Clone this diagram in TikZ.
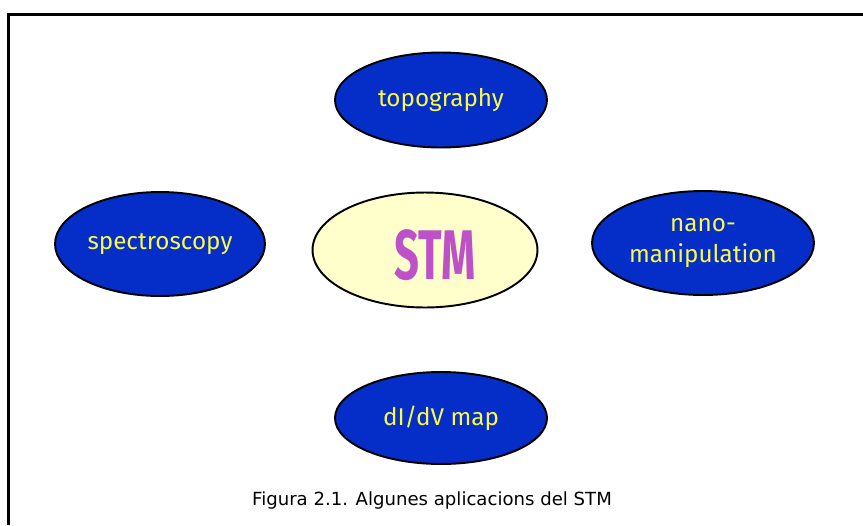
\documentclass[tikz,border=0pt]{standalone}
\usepackage{graphicx}
\usepackage{fontspec}
\setmainfont{DejaVu Sans}
\newfontfamily\labelfont{Fira Sans}
\newfontfamily\stmfont{Fira Sans}
\usetikzlibrary{shapes.geometric}

\definecolor{appblue}{RGB}{5,45,200}
\definecolor{applabel}{RGB}{250,250,70}
\definecolor{stmfill}{RGB}{255,255,204}
\definecolor{stmtext}{RGB}{190,80,200}

\tikzset{
  appnode/.style={ellipse, draw=black, line width=1.1pt, fill=appblue,
    inner sep=0pt, text=applabel, align=center,
    font=\labelfont\fontsize{13.8}{18}\selectfont},
  stmnode/.style={ellipse, draw=black, line width=1.1pt, fill=stmfill,
    inner sep=0pt},
  stmlabel/.style={text=stmtext, font=\stmfont\bfseries\fontsize{40}{40}\selectfont}
}

\begin{document}
\begin{tikzpicture}[x=0.02cm, y=-0.02cm]
    \useasboundingbox (0,0) rectangle (863,525);

    % Frame
    \draw[line width=1.7pt] (8.5,525) -- (8.5,14.5) -- (863,14.5);

    % Centre
    \node[stmnode, minimum width=4.5cm, minimum height=2.3cm] (stm) at (425,250) {};
    \node[stmlabel] (stmtitle) at (435,255) {\scalebox{0.62}[1]{STM}};

    % Applications
    \node[appnode, minimum width=4.24cm, minimum height=1.9cm] (topo) at (441,100) {topography};
    \node[appnode, minimum width=4.2cm, minimum height=2.08cm] (spec) at (160,244) {spectroscopy};
    \node[appnode, minimum width=4.44cm, minimum height=2.08cm] (nano) at (703,243) {nano-\\manipulation};
    \node[appnode, minimum width=4.24cm, minimum height=1.84cm] (didv) at (441,418) {dI/dV map};

    % Caption
    \node[font=\fontsize{10.3}{12}\selectfont] (caption) at (432,500) {Figura 2.1. Algunes aplicacions del STM};
\end{tikzpicture}
\end{document}
